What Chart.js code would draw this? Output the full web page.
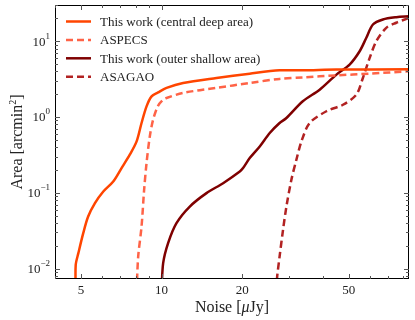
<!DOCTYPE html>
<html>
<head>
<meta charset="utf-8">
<script src="https://cdn.jsdelivr.net/npm/chart.js@4/dist/chart.umd.min.js"></script>
<style>
  body { margin: 0; background: #fff; }
</style>
</head>
<body>
<canvas id="areaChart" width="415" height="320"></canvas>
<script>
// curves (noise in uJy, area in arcmin^2)
const deepNoise = [4.78, 4.78, 4.89, 5.10, 5.32, 5.64, 6.06, 6.60, 7.09, 7.61, 8.07, 8.42, 8.79, 9.18, 9.71, 10.44, 12.04, 16.04, 21.35, 27.6, 33.7, 45.0, 84];
const deepArea = [0.005, 0.0112, 0.016, 0.0294, 0.0486, 0.0731, 0.104, 0.141, 0.212, 0.318, 0.476, 0.833, 1.38, 1.87, 2.11, 2.42, 2.81, 3.27, 3.73, 4.13, 4.13, 4.22, 4.25];

const aspecsNoise = [8.07, 8.18, 8.42, 8.61, 8.79, 9.04, 9.30, 9.71, 10.14, 10.44, 12.04, 16.04, 21.35, 27.6, 33.7, 45.0, 59.9, 84];
const aspecsArea = [0.005, 0.0144, 0.0359, 0.110, 0.247, 0.554, 0.921, 1.41, 1.69, 1.78, 2.08, 2.42, 2.81, 3.18, 3.33, 3.54, 3.73, 4.0];

const outerNoise = [10.0, 10.14, 10.58, 11.37, 12.75, 14.72, 16.98, 19.60, 20.16, 21.35, 23.27, 25.36, 27.6, 29.27, 33.7, 38.96, 45.0, 50.4, 54.95, 58.2, 61.6, 67.1, 75.3, 84];
const outerArea = [0.005, 0.0118, 0.0217, 0.0398, 0.0659, 0.0991, 0.134, 0.191, 0.212, 0.287, 0.409, 0.615, 0.833, 0.970, 1.61, 2.29, 3.62, 4.91, 7.36, 11.1, 16.6, 19.3, 20.7, 21.3];

const asagaoNoise = [26.85, 27.0, 27.6, 28.43, 29.27, 30.55, 31.89, 33.3, 35.75, 41.28, 47.6, 53.4, 56.5, 59.9, 63.4, 69.1, 75.3, 84];
const asagaoArea = [0.005, 0.0075, 0.0144, 0.0325, 0.0659, 0.149, 0.273, 0.476, 0.833, 1.19, 1.45, 1.97, 3.27, 6.02, 9.97, 15.0, 17.5, 20.3];

const labels = ['This work (central deep area)', 'ASPECS', 'This work (outer shallow area)', 'ASAGAO'];

const xLabelTicks = [5, 10, 20, 50];
const xMinorTicks = [4, 6, 7, 8, 9, 30, 40, 60, 70, 80];
const yMajorTicks = [0.01, 0.1, 1, 10];
const yMinorTicks = [0.008, 0.009, 0.02, 0.03, 0.04, 0.05, 0.06, 0.07, 0.08, 0.09,
  0.2, 0.3, 0.4, 0.5, 0.6, 0.7, 0.8, 0.9, 2, 3, 4, 5, 6, 7, 8, 9, 20, 30];

const serif = '"Liberation Serif", "DejaVu Serif", serif';

function pts(xs, ys) {
  return xs.map((v, i) => ({ x: v, y: ys[i] }));
}

function line(ctx, x1, y1, x2, y2) {
  ctx.beginPath();
  ctx.moveTo(x1, y1);
  ctx.lineTo(x2, y2);
  ctx.stroke();
}

// frame, inward ticks, y labels, axis titles and legend
const decorations = {
  id: 'decorations',
  afterDraw(chart) {
    const { ctx, chartArea: a, scales: { x, y } } = chart;
    ctx.save();
    ctx.strokeStyle = '#000';
    ctx.lineWidth = 1;
    ctx.strokeRect(a.left + 0.5, a.top + 0.5, a.right - a.left - 1, a.bottom - a.top - 1);

    ctx.strokeStyle = '#555';
    xLabelTicks.concat(xMinorTicks).forEach(v => {
      const p = Math.round(x.getPixelForValue(v)) + 0.5;
      const len = xLabelTicks.includes(v) ? 5 : 3;
      line(ctx, p, a.bottom, p, a.bottom - len);
      line(ctx, p, a.top, p, a.top + len);
    });
    yMajorTicks.concat(yMinorTicks).forEach(v => {
      const p = Math.round(y.getPixelForValue(v)) + 0.5;
      const len = yMajorTicks.includes(v) ? 5 : 3;
      line(ctx, a.left, p, a.left + len, p);
      line(ctx, a.right, p, a.right - len, p);
    });

    // y tick labels as 10^n
    ctx.fillStyle = '#222';
    ctx.textBaseline = 'middle';
    yMajorTicks.forEach(v => {
      const p = y.getPixelForValue(v);
      const sup = String(Math.round(Math.log10(v))).replace('-', '\u2212');
      ctx.font = '9px ' + serif;
      const supW = ctx.measureText(sup).width;
      ctx.textAlign = 'left';
      const right = a.left - 5;
      ctx.fillText(sup, right - supW, p - 5);
      ctx.font = '13px ' + serif;
      ctx.textAlign = 'right';
      ctx.fillText('10', right - supW, p + 1);
    });

    // x title: Noise [μJy]
    ctx.fillStyle = '#222';
    ctx.textBaseline = 'alphabetic';
    ctx.textAlign = 'left';
    const parts = [['Noise [', '16px ' + serif], ['\u03bc', 'italic 16px ' + serif], ['Jy]', '16px ' + serif]];
    let total = 0;
    parts.forEach(([t, f]) => { ctx.font = f; total += ctx.measureText(t).width; });
    let cx = (a.left + a.right) / 2 - total / 2;
    parts.forEach(([t, f]) => { ctx.font = f; ctx.fillText(t, cx, 312); cx += ctx.measureText(t).width; });

    // y title: Area [arcmin^2]
    ctx.save();
    ctx.translate(22, (a.top + a.bottom) / 2);
    ctx.rotate(-Math.PI / 2);
    ctx.font = '16px ' + serif;
    const w1 = ctx.measureText('Area [arcmin').width;
    ctx.font = '10px ' + serif;
    const w2 = ctx.measureText('2').width;
    ctx.font = '16px ' + serif;
    const w3 = ctx.measureText(']').width;
    let sx = -(w1 + w2 + w3) / 2;
    ctx.fillText('Area [arcmin', sx, 0);
    ctx.font = '10px ' + serif;
    ctx.fillText('2', sx + w1, -6);
    ctx.font = '16px ' + serif;
    ctx.fillText(']', sx + w1 + w2, 0);
    ctx.restore();

    // legend in the upper left corner
    ctx.font = '13px ' + serif;
    ctx.textBaseline = 'middle';
    chart.data.datasets.forEach((ds, i) => {
      const ly = a.top + 16.5 + i * 18.4;
      ctx.strokeStyle = ds.borderColor;
      ctx.lineWidth = ds.borderWidth;
      ctx.setLineDash(ds.borderDash || []);
      line(ctx, a.left + 11, ly, a.left + 36, ly);
      ctx.setLineDash([]);
      ctx.fillStyle = '#222';
      ctx.fillText(ds.label, a.left + 45, ly + 1);
    });
    ctx.restore();
  }
};

new Chart(document.getElementById('areaChart'), {
  type: 'line',
  data: {
    datasets: [
      { label: labels[0], data: pts(deepNoise, deepArea), borderColor: '#ff4500', borderWidth: 2.5 },
      { label: labels[1], data: pts(aspecsNoise, aspecsArea), borderColor: '#ff6347', borderWidth: 2.5, borderDash: [7, 4] },
      { label: labels[2], data: pts(outerNoise, outerArea), borderColor: '#7f0000', borderWidth: 2.5 },
      { label: labels[3], data: pts(asagaoNoise, asagaoArea), borderColor: '#b22222', borderWidth: 2.5, borderDash: [7, 4] }
    ]
  },
  options: {
    responsive: false,
    animation: false,
    layout: { padding: { top: 5, right: 6, left: 0, bottom: 0 } },
    elements: {
      point: { radius: 0 },
      line: { tension: 0.3, fill: false }
    },
    plugins: {
      legend: { display: false },
      tooltip: { enabled: false }
    },
    scales: {
      x: {
        type: 'logarithmic',
        min: 4,
        max: 84,
        grid: { display: false, drawTicks: false },
        border: { display: false },
        afterBuildTicks: scale => {
          scale.ticks = xLabelTicks.map(v => ({ value: v }));
        },
        afterFit: scale => { scale.height = 41; },
        ticks: {
          autoSkip: false,
          maxRotation: 0,
          padding: 4,
          color: '#222',
          font: { family: serif, size: 13 },
          callback: v => String(v)
        }
      },
      y: {
        type: 'logarithmic',
        min: 0.0073,
        max: 30,
        grid: { display: false, drawTicks: false },
        border: { display: false },
        afterFit: scale => { scale.width = 55; },
        ticks: { display: false }
      }
    }
  },
  plugins: [decorations]
});
</script>
</body>
</html>
